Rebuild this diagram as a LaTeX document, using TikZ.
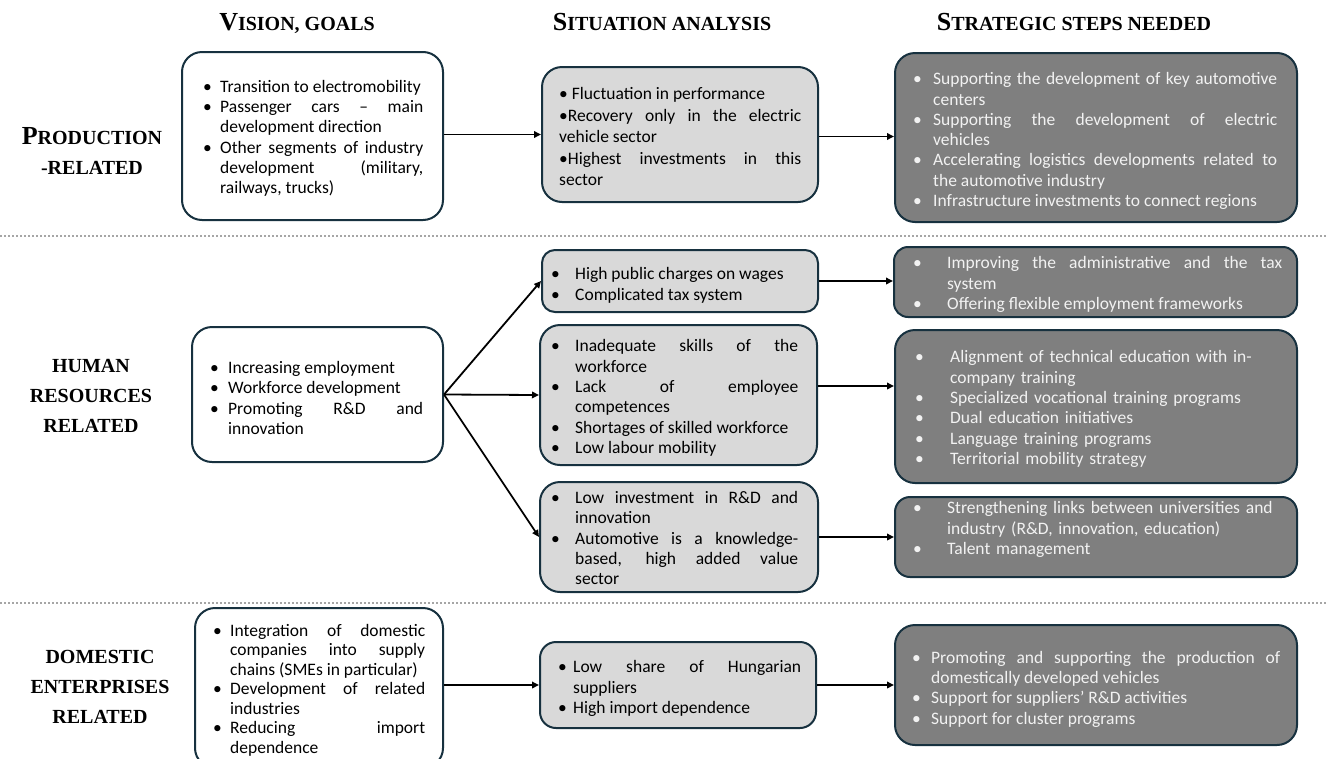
\documentclass[tikz,border=0pt]{standalone}
\usepackage{fontspec}
\setmainfont{Carlito}
\newfontfamily\hdrfont{Liberation Serif}
\usetikzlibrary{arrows.meta,calc}
\definecolor{navy}{HTML}{17313F}
\definecolor{sfill}{HTML}{D9D9D9}
\definecolor{tfill}{HTML}{7F7F7F}
\definecolor{tsep}{HTML}{A6A6A6}
\definecolor{ttext}{HTML}{F2F2F2}
\newlength\bulw
\newcommand\bitem[1]{\par\hangindent=\bulw\hangafter=1\noindent\makebox[\bulw][l]{\textbullet}\strut#1\strut\par}
\newcommand\sitem[1]{\par\noindent\strut#1\strut\par\vspace{2.5pt}}
\newcommand\hbig[1]{{\fontsize{26}{26}\selectfont #1}}
\newcommand\hsm[1]{{\fontsize{20}{20}\selectfont #1}}
\begin{document}
\begin{tikzpicture}[x=1pt,y=-1pt,
  box/.style={draw=navy, line width=2pt, rounded corners=20pt, inner sep=0pt},
  vbox/.style={box, fill=white},
  sbox/.style={box, fill=sfill},
  tbox/.style={box, fill=tfill},
  txt/.style={anchor=west, inner sep=0pt, align=justify, font=\fontsize{17.5}{20.3}\selectfont,
    execute at begin node={\setlength\parskip{0pt}\setlength\parindent{0pt}\tolerance=9999\emergencystretch=10pt}},
  ttxt/.style={txt, text=ttext},
  hdr/.style={anchor=base, inner sep=0pt, font=\hdrfont\bfseries},
  lbl/.style={anchor=base, inner sep=0pt, font=\hdrfont\bfseries\fontsize{20}{20}\selectfont},
  arr/.style={line width=1.8pt, -{Triangle[length=7pt,width=6.5pt]}},
  sep/.style={draw=tsep, line width=2.5pt, dash pattern=on 2.2pt off 1.8pt}
]
\useasboundingbox (0,0) rectangle (1327,758);
\clip (0,0) rectangle (1327,758);

% separators
\draw[sep] (0,236) -- (1327,236);
\draw[sep] (0,603) -- (1327,603);

% headers
\node[hdr] (h1) at (297,30) {\hbig{V}\hsm{ISION, GOALS}};
\node[hdr] (h2) at (662,30) {\hbig{S}\hsm{ITUATION ANALYSIS}};
\node[hdr] (h3) at (1074,30) {\hbig{S}\hsm{TRATEGIC STEPS NEEDED}};

% row labels
\node[hdr] (l1a) at (92,144) {\hbig{P}\hsm{RODUCTION}};
\node[hdr] (l1b) at (92,174) {\hsm{-RELATED}};
\node[lbl] (l2a) at (91,372) {HUMAN};
\node[lbl] (l2b) at (91,402) {RESOURCES};
\node[lbl] (l2c) at (91,432) {RELATED};
\node[lbl] (l3a) at (100,663) {DOMESTIC};
\node[lbl] (l3b) at (100,693) {ENTERPRISES};
\node[lbl] (l3c) at (100,723) {RELATED};

% boxes
\node[vbox, minimum width=261pt, minimum height=168pt] (v1) at (312.5,136) {};
\node[sbox, minimum width=276pt, minimum height=135pt] (s1) at (680,134.5) {};
\node[tbox, minimum width=402pt, minimum height=169pt] (t1) at (1096,137.5) {};

\node[vbox, minimum width=251pt, minimum height=135pt] (v2) at (317.5,394.5) {};
\node[sbox, minimum width=276pt, minimum height=62pt, rounded corners=13pt] (s2a) at (680,281) {};
\node[sbox, minimum width=277pt, minimum height=140pt] (s2b) at (678.5,395) {};
\node[sbox, minimum width=278pt, minimum height=110pt] (s2c) at (679,537) {};
\node[tbox, minimum width=403pt, minimum height=70pt, rounded corners=14pt] (t2a) at (1095.5,282) {};
\node[tbox, minimum width=402pt, minimum height=153pt] (t2b) at (1096,406.5) {};
\node[tbox, minimum width=402pt, minimum height=80pt, rounded corners=15pt] (t2c) at (1096,537) {};

\node[vbox, minimum width=248pt, minimum height=160pt] (v3) at (319,688) {};
\node[sbox, minimum width=276pt, minimum height=86pt, rounded corners=16pt] (s3) at (678,685) {};
\node[tbox, minimum width=402pt, minimum height=120pt] (t3) at (1096,685) {};

% texts
\node[txt, text width=220pt] (v1t) at (203,136) {\setlength\bulw{17pt}%
\bitem{Transition to electromobility}%
\bitem{Passenger cars -- main\linebreak development direction}%
\bitem{Other segments of industry\linebreak development (military,\linebreak railways, trucks)}};

\node[txt, text width=242pt] (s1t) at (559,135) {%
\sitem{\textbullet\ Fluctuation in performance}%
\sitem{\textbullet Recovery only in the electric\linebreak vehicle sector}%
\sitem{\textbullet Highest investments in this\linebreak sector}};

\node[ttxt, text width=364pt] (t1t) at (913,138.5) {\setlength\bulw{20pt}%
\bitem{Supporting the development of key automotive\linebreak centers}%
\bitem{Supporting the development of electric\linebreak vehicles}%
\bitem{Accelerating logistics developments related to\linebreak the automotive industry}%
\bitem{Infrastructure investments to connect regions}};

\node[txt, text width=213pt] (v2t) at (210,397) {\setlength\bulw{18pt}%
\bitem{Increasing employment}%
\bitem{Workforce development}%
\bitem{Promoting R\&D and\linebreak innovation}};

\node[txt, text width=247pt] (s2at) at (551,283) {\setlength\bulw{24pt}%
\bitem{High public charges on wages}%
\bitem{Complicated tax system}};

\node[txt, text width=247pt] (s2bt) at (551,395.5) {\setlength\bulw{24pt}%
\bitem{Inadequate skills of the\linebreak workforce}%
\bitem{Lack of employee\linebreak competences}%
\bitem{Shortages of skilled workforce}%
\bitem{Low labour mobility}};

\node[txt, text width=247pt] (s2ct) at (551,537) {\setlength\bulw{24pt}%
\bitem{Low investment in R\&D and\linebreak innovation}%
\bitem{Automotive is a knowledge-\linebreak based, high added value\linebreak sector}};

\node[ttxt, text width=369pt] (t2at) at (913,282) {\setlength\bulw{34pt}%
\bitem{Improving the administrative and the tax\linebreak system}%
\bitem{Offering flexible employment frameworks}};

\node[ttxt, text width=365pt, align=left] (t2bt) at (915,406.5) {\setlength\bulw{35pt}%
\bitem{Alignment of technical education with in-\newline company training}%
\bitem{Specialized vocational training programs}%
\bitem{Dual education initiatives}%
\bitem{Language training programs}%
\bitem{Territorial mobility strategy}};

\node[ttxt, text width=367pt, align=left] (t2ct) at (913,527) {\setlength\bulw{34pt}%
\bitem{Strengthening links between universities and\newline industry (R\&D, innovation, education)}%
\bitem{Talent management}};

\node[txt, text width=212pt, font=\fontsize{17.5}{19.5}\selectfont] (v3t) at (213,688) {\setlength\bulw{17pt}%
\bitem{Integration of domestic\linebreak companies into supply\linebreak \mbox{chains (SMEs in particular)}}%
\bitem{Development of related\linebreak industries}%
\bitem{Reducing import\linebreak dependence}};

\node[txt, text width=243pt] (s3t) at (558,686) {\setlength\bulw{15pt}%
\bitem{Low share of Hungarian\linebreak suppliers}%
\bitem{High import dependence}};

\node[ttxt, text width=368pt] (t3t) at (912,686.5) {\setlength\bulw{19pt}%
\bitem{Promoting and supporting the production of\linebreak domestically developed vehicles}%
\bitem{Support for suppliers’ R\&D activities}%
\bitem{Support for cluster programs}};

% connectors
\draw[arr] (v1.east |- s1.west) -- (s1.west);
\draw[arr] ([yshift=-2pt]s1.east) -- ([yshift=-2pt]s1.east -| t1.west);
\draw[arr] (v2.east) -- (s2a.west);
\draw[arr] (v2.east) -- (s2b.west);
\draw[arr] (v2.east) -- (s2c.west);
\draw[arr] (s2a.east) -- (s2a.east -| t2a.west);
\draw[arr] ([yshift=9pt]s2b.east) -- ([yshift=9pt]s2b.east -| t2b.west);
\draw[arr] (s2c.east) -- (t2c.west);
\draw[arr] (v3.east |- s3.west) -- (s3.west);
\draw[arr] (s3.east) -- (t3.west);
\end{tikzpicture}
\end{document}
